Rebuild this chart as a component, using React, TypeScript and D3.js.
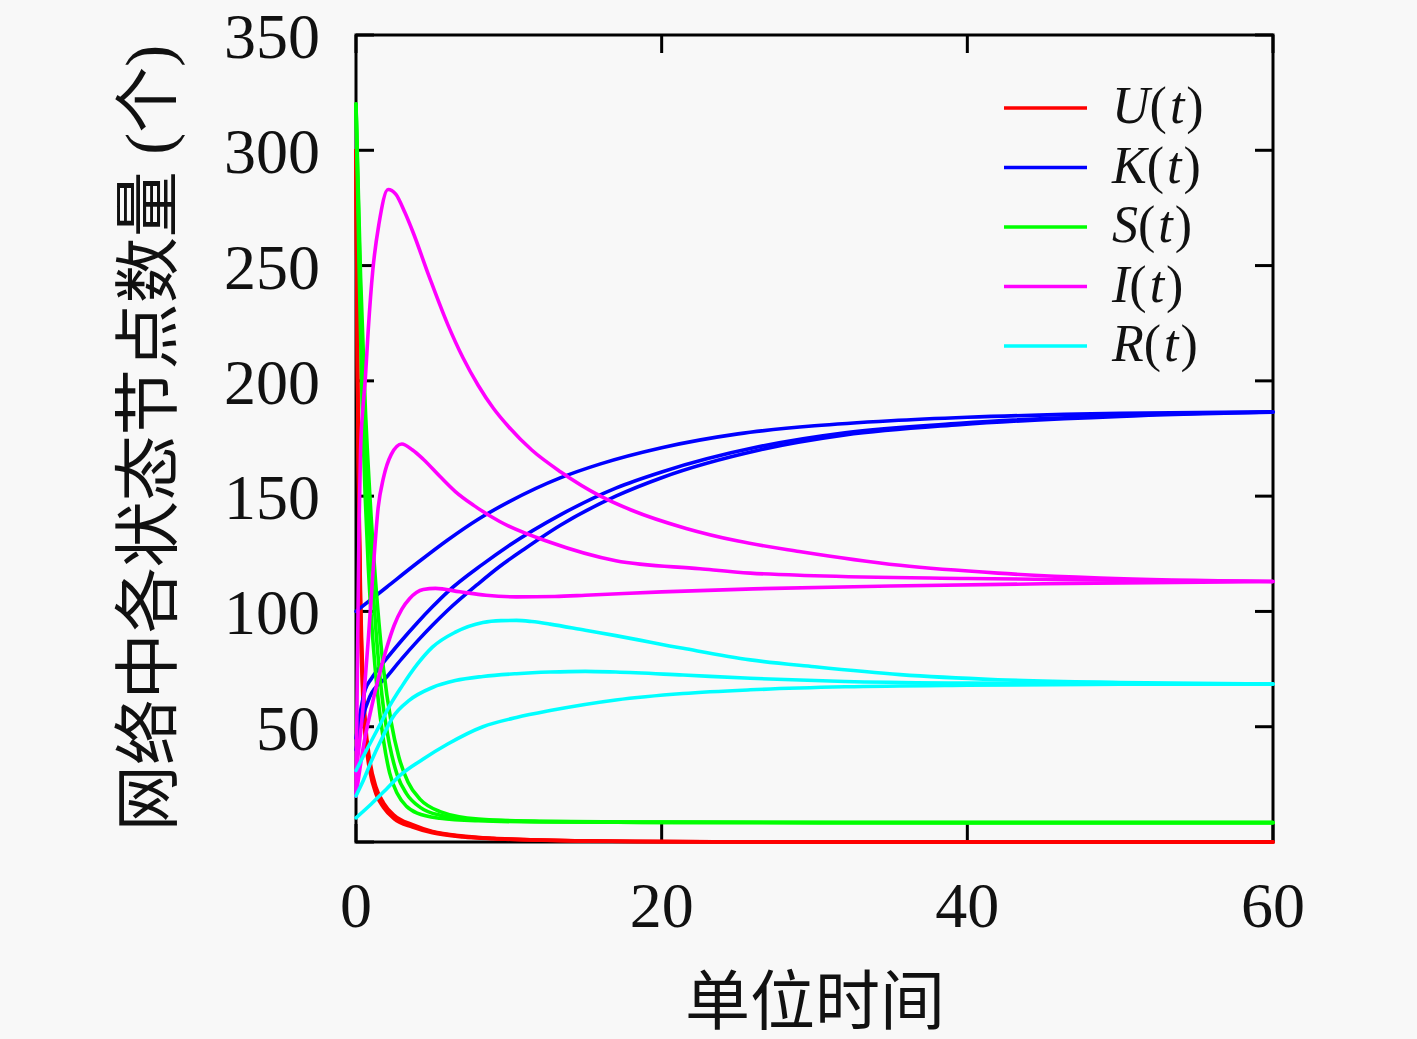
import React from "react";
import * as d3 from "d3";

type P = [number, number];

// ---- data (t, value) ----
const U1: P[] = [[0,300],[0.1,200],[0.2,135],[0.3,95],[0.45,62],[0.6,46],[0.9,31],[1.3,21],[1.8,15],[2.5,10],[3.7,6.5],[5,4],[7,2.2],[9,1.4],[11.4,0.9],[15,0.4],[20,0.15],[30,0.02],[60,0]];
const U2: P[] = [[0,300],[0.1,205],[0.2,140],[0.3,100],[0.45,66],[0.6,49],[0.9,33],[1.3,22.5],[1.8,16],[2.5,10.8],[3.7,7],[5,4.3],[7,2.4],[9,1.5],[11.4,0.95],[15,0.45],[20,0.17],[30,0.03],[60,0]];
const U3: P[] = [[0,300],[0.1,210],[0.2,146],[0.3,106],[0.45,71],[0.6,53],[0.9,35.5],[1.3,24],[1.8,17],[2.5,11.6],[3.7,7.5],[5,4.6],[7,2.6],[9,1.6],[11.4,1],[15,0.5],[20,0.2],[30,0.04],[60,0]];

const K1: P[] = [[0,100],[2,110.5],[4,121],[6,131],[8,140],[10,147.5],[13.4,158],[16,164],[20,171],[25,177],[30,180.5],[35,182.7],[40,184.2],[50,185.9],[60,186.6]];
const K2: P[] = [[0,45],[0.3,57],[0.6,66],[1,70.8],[2,79.5],[3,87.5],[4,95],[5,102],[6,108.5],[8.3,120.5],[10,128.5],[13.4,142],[17,153.5],[20,160.5],[26.4,171.5],[32,177.5],[39.5,181.6],[50,185],[60,186.5]];
const K3: P[] = [[0,40],[0.4,53],[0.9,63],[2,71.5],[3,79.5],[4,87],[5,94],[6,100.5],[8,112],[9.4,119.5],[11,127],[13.4,137.5],[17,150],[20,158],[26.4,170],[32,176.5],[39.5,181],[50,184.6],[60,186.4]];

const S1: P[] = [[0,320],[0.2,250],[0.4,190],[0.6,150],[0.8,120],[1.1,88],[1.4,65],[1.8,44],[2.2,30],[2.7,21],[3.3,15.5],[4,12.5],[5.5,10.3],[8,9.2],[12,8.7],[20,8.5],[40,8.4],[60,8.4]];
const S2: P[] = [[0,320],[0.3,235],[0.6,175],[1.0,122],[1.4,84],[1.8,58],[2.2,42],[2.7,29],[3.3,21],[4.2,15],[5.5,11.6],[8,9.6],[12,8.9],[20,8.5],[40,8.4],[60,8.4]];
const S3: P[] = [[0,320],[0.3,245],[0.6,190],[1.0,140],[1.4,103],[1.8,75],[2.3,52],[2.8,37],[3.4,26],[4.2,18.5],[5.5,13.2],[8,10],[12,9],[20,8.6],[40,8.4],[60,8.4]];

const I1: P[] = [[0,20],[0.1,80],[0.2,138],[0.3,170],[0.45,188],[0.6,200],[0.8,222],[1.1,248],[1.5,268],[2.1,283],[2.6,281],[3.2,273],[3.7,265],[4.8,245],[6,224.5],[7,210],[8,198],[9,188],[10,180],[11.5,170],[13.4,160.5],[16,150],[18,144],[21.6,136],[25,130.5],[29,126],[35.6,120],[42,116.6],[48.7,114.5],[60,113]];
const I2: P[] = [[0,30],[0.46,58.5],[0.8,87.6],[1.1,116],[1.45,145],[1.8,158],[2.3,168],[3,172.6],[3.7,170],[4.4,166],[5.5,158.5],[6.5,152],[7.7,146],[9.4,139],[12.7,130],[17,122],[22.5,118.5],[25.8,116.6],[30,115.5],[40,114.3],[50,113.5],[60,113]];
const I3: P[] = [[0,20],[0.5,42],[1,58],[1.5,72],[2,84],[2.5,94],[3,101],[3.5,105.5],[4.4,109.5],[5.2,110],[6.8,108.5],[8.5,107],[10.5,106.3],[13,106.5],[15,107],[20,108.5],[26,109.8],[35,111],[45,112],[60,113]];

const R1: P[] = [[0,31],[0.7,40],[1.5,50],[2.2,59],[3,67.5],[4,77],[5,84.5],[6.5,91],[8.3,95.2],[9.5,96],[10.5,96.1],[11.5,95.6],[12.7,94.5],[15,91.8],[17,89.5],[21.4,84],[25.8,79],[30,76],[35.6,72.6],[42,70.4],[50,69.2],[60,68.5]];
const R2: P[] = [[0,20],[0.5,27],[1,35],[1.7,45],[2.4,54],[3.5,61.5],[5,67],[6.5,70],[8.3,71.8],[10.5,73],[12.7,73.7],[15,74],[17,73.7],[21.4,72.4],[25.8,71],[32,69.6],[40,68.9],[50,68.6],[60,68.5]];
const R3: P[] = [[0,10.5],[1,16.5],[2,23],[2.9,29],[4.4,36],[6,42.5],[8.3,50],[10.5,54],[12.7,57],[17,61.6],[21.4,64.4],[25.8,66],[32,67.3],[40,68],[50,68.4],[60,68.5]];

const seriesNames = ["U", "K", "S", "I", "R"];
const seriesColors = ["#ff0000", "#0000ff", "#00ff00", "#ff00ff", "#00ffff"];
const seriesCurves: P[][][] = [[U1, U2, U3], [K1, K2, K3], [S1, S2, S3], [I1, I2, I3], [R1, R2, R3]];

const xTicks = [0, 20, 40, 60];
const yTicks = [0, 50, 100, 150, 200, 250, 300, 350];
const yTickLabels = ["", "50", "100", "150", "200", "250", "300", "350"];
const xTitle = "单位时间";
const yTitle = "网络中各状态节点数量 (个)";

const W = 1417, H = 1039;
const L = 356, R = 1273, T = 35, B = 842;
const serif = "'Liberation Serif', 'Times New Roman', serif";
const cjk = "'Liberation Serif', 'Noto Sans CJK SC', sans-serif";

export default function App() {
  const x = d3.scaleLinear().domain([0, 60]).range([L, R]);
  const y = d3.scaleLinear().domain([0, 350]).range([B, T]);
  const line = d3.line<P>().x(d => x(d[0])).y(d => y(d[1])).curve(d3.curveMonotoneX);
  const tickLen = 18;

  return (
    <svg width={W} height={H} style={{ position: "absolute", left: 0, top: 0 }}>
      <rect x={0} y={0} width={W} height={H} fill="#f8f8f8" />
      {/* frame */}
      <rect x={L} y={T} width={R - L} height={B - T} fill="none" stroke="#000" strokeWidth={3} />
      {yTicks.map((v, i) => (
        <g key={"y" + i}>
          <line x1={L} x2={L + tickLen} y1={y(v)} y2={y(v)} stroke="#000" strokeWidth={3} />
          <line x1={R} x2={R - tickLen} y1={y(v)} y2={y(v)} stroke="#000" strokeWidth={3} />
          <text x={320} y={y(v)} dy="0.36em" textAnchor="end" fontFamily={serif} fontSize={64} fill="#111">{yTickLabels[i]}</text>
        </g>
      ))}
      {xTicks.map((v, i) => (
        <g key={"x" + i}>
          <line x1={x(v)} x2={x(v)} y1={B} y2={B - tickLen} stroke="#000" strokeWidth={3} />
          <line x1={x(v)} x2={x(v)} y1={T} y2={T + tickLen} stroke="#000" strokeWidth={3} />
          <text x={x(v)} y={927} textAnchor="middle" fontFamily={serif} fontSize={64} fill="#111">{v}</text>
        </g>
      ))}
      {/* curves */}
      {seriesCurves.map((group, si) =>
        group.map((c, ci) => (
          <path key={si + "-" + ci} d={line(c) || ""} fill="none" stroke={seriesColors[si]} strokeWidth={3.6} strokeLinejoin="round" strokeLinecap="round" />
        ))
      )}
      {/* legend */}
      {seriesNames.map((n, i) => {
        const ly = 108 + i * 59.5;
        return (
          <g key={"lg" + i}>
            <line x1={1004} x2={1087} y1={ly} y2={ly} stroke={seriesColors[i]} strokeWidth={3.6} />
            <text x={1112} y={ly + 15} fontFamily={serif} fontSize={52} fill="#111">
              <tspan fontStyle="italic">{n}</tspan>
              <tspan>(</tspan>
              <tspan fontStyle="italic" dx={3}>t</tspan>
              <tspan dx={2}>)</tspan>
            </text>
          </g>
        );
      })}
      {/* axis titles */}
      <text x={815} y={1002} textAnchor="middle" dominantBaseline="central" fontFamily={cjk} fontSize={65} fill="#111">{xTitle}</text>
      <text transform={`translate(148,438) rotate(-90)`} textAnchor="middle" dominantBaseline="central" fontFamily={cjk} fontSize={66} fill="#111">{yTitle}</text>
    </svg>
  );
}
